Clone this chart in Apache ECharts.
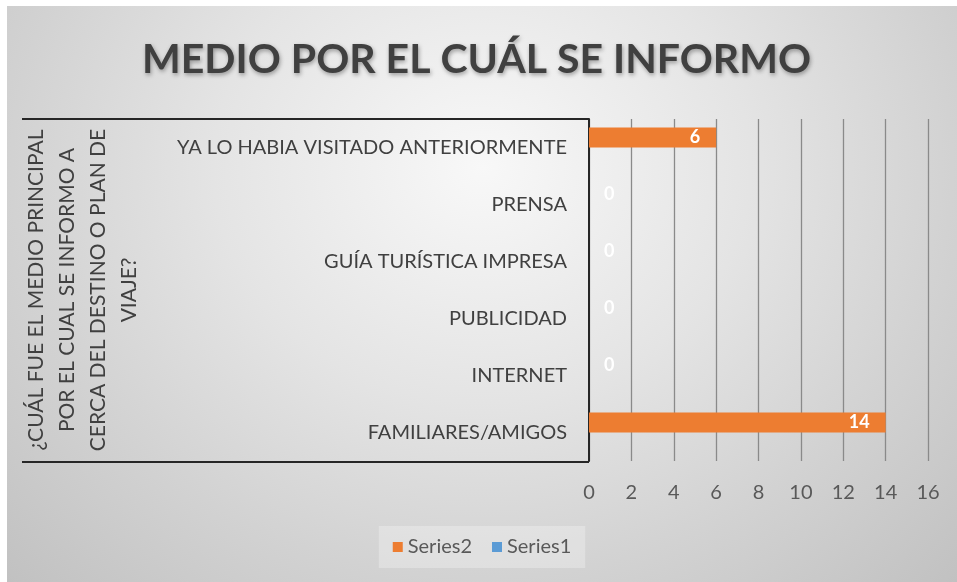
<!DOCTYPE html>
<html>
<head>
<meta charset="utf-8">
<script src="https://cdn.jsdelivr.net/npm/echarts@6/dist/echarts.min.js"></script>
<style>
  html, body { margin: 0; padding: 0; background: #fff; }
  #main {
    position: absolute; left: 7px; top: 6px; width: 950px; height: 576px;
    background: radial-gradient(ellipse farthest-corner at 50% 28%, #f8f8f8 0%, #e4e4e4 40%, #d2d2d2 70%, #c1c1c1 100%);
  }
</style>
</head>
<body>
<div id="main"></div>
<script>
var categories = ['FAMILIARES/AMIGOS', 'INTERNET', 'PUBLICIDAD', 'GUÍA TURÍSTICA IMPRESA', 'PRENSA', 'YA LO HABIA VISITADO ANTERIORMENTE'];
var series2 = [14, 0, 0, 0, 0, 6];
var series1 = ['-', '-', '-', '-', '-', '-'];
var xTicks = [0, 2, 4, 6, 8, 10, 12, 14, 16];

var font = 'Lato';
var chart = echarts.init(document.getElementById('main'), null, { width: 950, height: 576 });

// zero values get their label pushed just right of the axis
var series2Data = series2.map(function (v) {
  if (v === 0) {
    return { value: v, label: { position: 'right', distance: 15 } };
  }
  return v;
});

var option = {
  title: {
    text: 'MEDIO POR EL CUÁL SE INFORMO',
    left: 130,
    top: 28,
    textStyle: {
      fontFamily: font,
      fontWeight: 'bold',
      fontSize: 41,
      color: '#404040',
      textShadowColor: 'rgba(0,0,0,0.35)',
      textShadowBlur: 4,
      textShadowOffsetX: 1,
      textShadowOffsetY: 2
    }
  },
  color: ['#ED7D31', '#5B9BD5'],
  legend: {
    data: ['Series2', 'Series1'],
    bottom: 14,
    left: 'center',
    icon: 'rect',
    itemWidth: 10,
    itemHeight: 10,
    itemGap: 20,
    padding: [11, 14],
    backgroundColor: 'rgba(245,245,245,0.35)',
    textStyle: { fontFamily: font, fontSize: 20, color: '#595959' }
  },
  grid: {
    left: 582,
    right: 29,
    top: 113,
    bottom: 121
  },
  xAxis: {
    type: 'value',
    min: 0,
    max: 16,
    interval: 2,
    axisLine: { show: false },
    axisTick: { show: false },
    axisLabel: {
      margin: 22,
      fontFamily: font,
      fontSize: 20,
      color: '#595959',
      formatter: function (v) { return xTicks.indexOf(v) >= 0 ? String(v) : ''; }
    },
    splitLine: { lineStyle: { color: '#8a8a8a', width: 1.3 } }
  },
  yAxis: {
    type: 'category',
    data: categories,
    name: '¿CUÁL FUE EL MEDIO PRINCIPAL\nPOR EL CUAL SE INFORMO A\nCERCA DEL DESTINO O PLAN DE\nVIAJE?',
    nameLocation: 'middle',
    nameRotate: 90,
    nameGap: 444,
    nameTextStyle: {
      fontFamily: font,
      fontSize: 21,
      lineHeight: 31,
      color: '#404040',
      align: 'center'
    },
    axisLine: { show: true, lineStyle: { color: '#262626', width: 2 } },
    axisTick: { show: false },
    axisLabel: {
      margin: 22,
      fontFamily: font,
      fontSize: 20,
      color: '#404040'
    },
    splitLine: { show: false }
  },
  graphic: [{
    type: 'polyline',
    shape: { points: [[15, 113], [582, 113]] },
    style: { stroke: '#262626', lineWidth: 2, fill: null }
  }, {
    type: 'polyline',
    shape: { points: [[15, 456], [582, 456]] },
    style: { stroke: '#262626', lineWidth: 2, fill: null }
  }],
  series: [{
    name: 'Series2',
    type: 'bar',
    barWidth: 20,
    barGap: '0%',
    data: series2Data,
    label: {
      show: true,
      position: 'insideRight',
      distance: 16,
      color: '#ffffff',
      fontFamily: font,
      fontWeight: 'bold',
      fontSize: 18
    }
  }, {
    name: 'Series1',
    type: 'bar',
    barWidth: 20,
    barGap: '0%',
    data: series1
  }]
};
chart.setOption(option);
</script>
</body>
</html>
